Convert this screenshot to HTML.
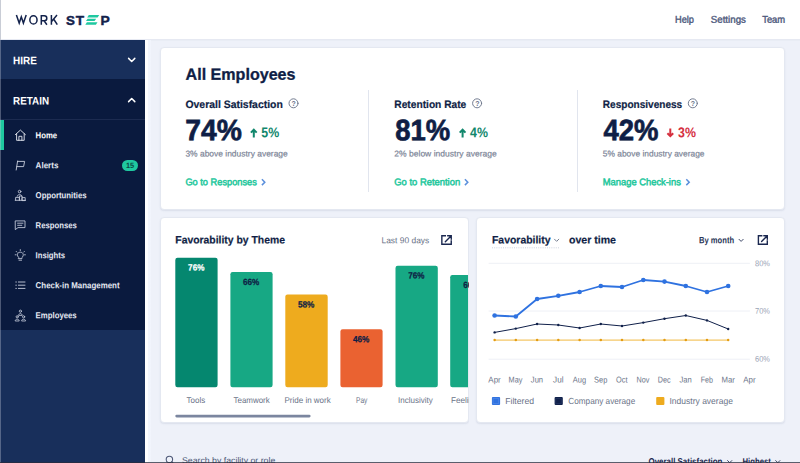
<!DOCTYPE html>
<html>
<head>
<meta charset="utf-8">
<style>
html,body{margin:0;padding:0;}
body{width:800px;height:463px;overflow:hidden;position:relative;background:#eef1f9;font-family:"Liberation Sans",sans-serif;}
.abs{position:absolute;}
.t{position:absolute;left:0;top:0;white-space:nowrap;transform-origin:0 0;display:block;}
.card{position:absolute;background:#fff;border-radius:4px;border:1px solid #e4e8f1;box-sizing:border-box;box-shadow:0 1px 1.5px rgba(120,135,170,0.16);}
.bar{position:absolute;border-radius:2.2px;}
svg{position:absolute;overflow:visible;}
</style>
</head>
<body>
<!-- header -->
<div class="abs" style="left:0;top:0;width:800px;height:38.6px;background:#fff;box-shadow:0 1.6px 0 #e6e9f2;"></div>
<!-- logo -->
<svg style="left:0;top:0" width="130" height="39" viewBox="0 0 130 39">
 <g fill="none" stroke="#13224b" stroke-width="1.5" stroke-linejoin="miter" stroke-linecap="butt">
  <polyline points="16.4,15.1 19.2,23.1 21.3,16.8 23.4,23.1 26.2,15.1"/>
  <ellipse cx="33.45" cy="19.9" rx="3.6" ry="4.1"/>
  <path d="M41.3,24.7 V15.8 H44.3 A2.5,2.5 0 0 1 44.3,20.8 H41.3 M44.1,20.8 L46.9,24.7"/>
  <path d="M51.4,15.1 V24.7 M57.0,15.1 L51.6,21.4 M53.6,19.0 L57.3,24.7"/>
 </g>
 <g font-family="Liberation Sans, sans-serif" fill="#13224b" stroke="#13224b" stroke-width="0.45" font-size="13.6" font-weight="700">
  <text transform="translate(66.0,24.75) scale(0.98,1)">S</text>
  <text transform="translate(75.7,24.75) scale(1.0,1)">T</text>
  <text transform="translate(100.5,24.75) scale(1.02,1)">P</text>
 </g>
 <g fill="#1fc8a0">
  <polygon points="88.8,15.1 99.2,15.1 97.6,17.5 87.2,17.5"/>
  <polygon points="87.6,18.7 96.2,18.7 94.6,21.1 86,21.1"/>
  <polygon points="86.9,22.3 97.5,22.3 95.9,24.7 85.3,24.7"/>
 </g>
</svg>
<!-- sidebar -->
<div class="abs" style="left:0;top:40px;width:145px;height:423px;background:#182f5b;"></div>
<div class="abs" style="left:0;top:79px;width:145px;height:251px;background:#0a1a3e;"></div>
<div class="abs" style="left:0;top:118.5px;width:145px;height:1px;background:#1c2b50;"></div>
<div class="abs" style="left:0;top:120px;width:4px;height:30px;background:#1fc8a0;"></div>
<div class="abs" style="left:145px;top:40px;width:5.7px;height:423px;background:linear-gradient(90deg,#ffffff 0,#ffffff 45%,#f3f6fd 55%,#f1f4fc 100%);"></div>
<div class="abs" style="left:0;top:0;width:1px;height:40px;background:#c9cdd6;"></div><div class="abs" style="left:0;top:40px;width:1px;height:423px;background:rgba(200,206,222,0.35);"></div>
<!-- sidebar chevrons -->
<svg style="left:0;top:0" width="150" height="463" viewBox="0 0 150 463" fill="none" stroke="#fff" stroke-linecap="round" stroke-linejoin="round">
 <polyline points="128.6,58.4 131.7,61.5 134.8,58.4" stroke-width="1.5"/>
 <polyline points="128.6,101.6 131.7,98.5 134.8,101.6" stroke-width="1.5"/>
 <!-- home icon -->
 <g stroke="#e8ebf3" stroke-width="0.9">
  <path d="M15.4,134.6 L20.4,130.1 L25.4,134.6"/>
  <path d="M16.6,133.8 V140.3 H24.2 V133.8"/>
  <path d="M18.9,140.3 V136.3 H21.9 V140.3"/>
 </g>
 <!-- flag -->
 <g stroke="#c9cfde" stroke-width="0.9">
  <path d="M17.6,161 L16.2,170"/>
  <path d="M17.6,161.4 H24.6 L23.6,166.6 H16.9"/>
 </g>
 <!-- opportunities -->
 <g stroke="#c9cfde" stroke-width="0.85">
  <circle cx="19.6" cy="191.6" r="1.3"/>
  <path d="M17.2,196.2 C17.2,194 22,194 22,196.2"/>
  <path d="M15.6,200.2 V197.4 H19.4 V200.2 M19.4,200.2 V196 H22 V200.2 M22,200.2 V197.6 H25.2 V200.2 Z"/>
  <path d="M15.2,200.3 H25.6"/>
 </g>
 <!-- responses -->
 <g stroke="#c9cfde" stroke-width="0.85">
  <path d="M15.6,220.9 H25.0 V227.6 H18.0 L15.6,229.4 Z"/>
  <path d="M17.6,223.2 H23 M17.6,225.3 H21.8"/>
 </g>
 <!-- insights bulb -->
 <g stroke="#c9cfde" stroke-width="0.85">
  <path d="M18.6,257.4 C16.6,256 16.8,252.2 20.3,252.2 C23.8,252.2 24,256 22,257.4 V258.6 H18.6 Z"/>
  <path d="M19,260.2 H21.6"/>
  <path d="M20.3,249.6 V250.6 M16.2,251.4 L16.9,252.1 M24.4,251.4 L23.7,252.1 M15.2,254.8 H16.1 M24.5,254.8 H25.4"/>
 </g>
 <!-- list -->
 <g stroke="#c9cfde" stroke-width="0.9">
  <path d="M18.4,282 H25 M18.4,285.2 H25 M18.4,288.4 H25"/>
  <path d="M15.8,282 H16.4 M15.8,285.2 H16.4 M15.8,288.4 H16.4"/>
 </g>
 <!-- employees -->
 <g stroke="#c9cfde" stroke-width="0.8">
  <circle cx="20.4" cy="311.2" r="1.1"/>
  <path d="M18.6,315 C18.6,313 22.2,313 22.2,315 Z"/>
  <circle cx="17.2" cy="316.8" r="1.1"/>
  <path d="M15.2,320.6 C15.2,318.6 19.2,318.6 19.2,320.6 Z"/>
  <circle cx="23.6" cy="316.8" r="1.1"/>
  <path d="M21.6,320.6 C21.6,318.6 25.6,318.6 25.6,320.6 Z"/>
 </g>
</svg>
<!-- badge -->
<div class="abs" style="left:122.2px;top:160.2px;width:15.6px;height:10.4px;border-radius:6px;background:#1fc8a0;"></div>

<!-- top card -->
<div class="card" style="left:160px;top:47px;width:625px;height:163px;"></div>
<div class="abs" style="left:368.3px;top:90px;width:1px;height:102px;background:#e1e5ee;"></div>
<div class="abs" style="left:576.8px;top:90px;width:1px;height:102px;background:#e1e5ee;"></div>
<svg style="left:0;top:0" width="800" height="463" viewBox="0 0 800 463" fill="none" stroke-linecap="round" stroke-linejoin="round">
 <!-- help circles -->
 <g stroke="#6d768b" stroke-width="0.95">
  <circle cx="293.5" cy="103.3" r="4.5"/>
  <circle cx="477.1" cy="103.3" r="4.5"/>
  <circle cx="692.8" cy="103.3" r="4.5"/>
 </g>
 <!-- arrows up -->
 <g stroke="#12876c" stroke-width="2" stroke-linecap="butt" stroke-linejoin="miter">
  <path d="M253.8,137.5 V130 M250.9,132.6 L253.8,129.7 L256.7,132.6"/>
  <path d="M462.6,137.5 V130 M459.7,132.6 L462.6,129.7 L465.5,132.6"/>
 </g>
 <g stroke="#d5303f" stroke-width="2" stroke-linecap="butt" stroke-linejoin="miter">
  <path d="M670.3,128.4 V135.9 M667.4,133.3 L670.3,136.2 L673.2,133.3"/>
 </g>
 <!-- link chevrons -->
 <g stroke="#5a8fdc" stroke-width="1.5" stroke-linecap="butt" stroke-linejoin="miter">
  <polyline points="261.9,179.3 264.8,182.2 261.9,185.1"/>
  <polyline points="464.9,179.3 467.8,182.2 464.9,185.1"/>
  <polyline points="686.3,179.3 689.2,182.2 686.3,185.1"/>
 </g>
</svg>
<div class="t" style="transform:translate(291.55px,99.1px) rotate(0.03deg);font-size:7px;line-height:9px;font-weight:700;color:#6d768b;">?</div>
<div class="t" style="transform:translate(475.15px,99.1px) rotate(0.03deg);font-size:7px;line-height:9px;font-weight:700;color:#6d768b;">?</div>
<div class="t" style="transform:translate(690.85px,99.1px) rotate(0.03deg);font-size:7px;line-height:9px;font-weight:700;color:#6d768b;">?</div>

<!-- bottom-left card -->
<div class="card" style="left:160px;top:217px;width:309px;height:206px;"></div>
<svg style="left:0;top:0" width="800" height="463" viewBox="0 0 800 463">
 <defs><clipPath id="cl"><rect x="161" y="218" width="307" height="204"/></clipPath></defs>
 <g clip-path="url(#cl)">
  <rect x="175.3" y="257.8" width="42.3" height="129.5" rx="2.2" fill="#05876f"/>
  <rect x="230.4" y="272.1" width="42.2" height="115.2" rx="2.2" fill="#17a884"/>
  <rect x="285.3" y="294.5" width="42.4" height="92.8" rx="2.2" fill="#eeab1e"/>
  <rect x="340.4" y="329.3" width="42.2" height="58.0" rx="2.2" fill="#ea6231"/>
  <rect x="395.5" y="265.7" width="42.3" height="121.6" rx="2.2" fill="#17a884"/>
  <rect x="450.2" y="275.1" width="41.8" height="112.2" rx="2.2" fill="#17a884"/>
 </g>
 <rect x="175.3" y="414.7" width="135.3" height="2.7" rx="1.35" fill="#7b869f"/>
</svg>
<span class="t" style="font-size:9px;line-height:14px;font-weight:700;color:#0f1e45;transform:translate(463.20px,278.00px) scaleX(0.9050) rotate(0.03deg);-webkit-text-stroke:0.25px #0f1e45;">66%</span>
<span class="t" style="font-size:8.4px;line-height:14px;font-weight:400;color:#6a7388;transform:translate(451.00px,392.89px) scaleX(0.9709) rotate(0.03deg);">Feeling</span>
<div class="abs" style="left:469px;top:216px;width:7px;height:208px;background:#eef1f9;"></div>
<!-- bottom-right card -->
<div class="card" style="left:476px;top:217px;width:309px;height:206px;"></div>
<!-- external link icons -->
<svg style="left:0;top:0" width="800" height="463" viewBox="0 0 800 463" fill="none" stroke="#1b2850" stroke-width="1.4" stroke-linecap="butt" stroke-linejoin="miter">
 <path d="M446,235.7 H441.85 V244.3 H451.25 V240.2"/>
 <path d="M447.6,235.7 H451.25 V239.3 M451,235.95 L445.3,241.65" stroke-linecap="round"/>
 <path d="M762.4,235.7 H758.4 V244.3 H767.3 V240.2"/>
 <path d="M763.8,235.7 H767.3 V239.2 M767.05,235.95 L761.6,241.4" stroke-linecap="round"/>
</svg>

<svg style="left:0;top:0" width="800" height="463" viewBox="0 0 800 463" fill="none" stroke-linecap="round" stroke-linejoin="round">
 <g stroke="#eef0f6" stroke-width="1">
  <path d="M489,263.3 H749.5 M489,311 H749.5 M489,359.2 H749.5"/>
 </g>
 <!-- dotted underline -->
 <path d="M492,247.8 H559.5" stroke="#c3c9d8" stroke-width="0.8" stroke-dasharray="1 1.2" stroke-linecap="butt"/>
 <!-- select chevrons -->
 <g stroke="#2a3658" stroke-width="0.9">
  <polyline points="554.5,239.2 556.65,241.35 558.8,239.2" stroke="#6a7388"/>
  <polyline points="739.0,239.3 741.1,241.4 743.2,239.3"/>
  <polyline points="727.6,460.6 729.7,462.7 731.8,460.6"/>
  <polyline points="775.7,460.6 777.8,462.7 779.9,460.6"/>
 </g>
 <polyline fill="none" stroke="#efb02a" stroke-width="0.9" points="494.6,340.1 515.8,340.1 537.1,340.1 558.3,340.1 579.6,340.1 600.8,340.1 622.0,340.1 643.3,340.1 664.5,340.1 685.8,340.1 707.0,340.1 728.2,340.1"/><circle cx="494.6" cy="340.1" r="0" fill="#efb02a"/><circle cx="515.8" cy="340.1" r="0" fill="#efb02a"/><circle cx="537.1" cy="340.1" r="0" fill="#efb02a"/><circle cx="558.3" cy="340.1" r="0" fill="#efb02a"/><circle cx="579.6" cy="340.1" r="0" fill="#efb02a"/><circle cx="600.8" cy="340.1" r="0" fill="#efb02a"/><circle cx="622.0" cy="340.1" r="0" fill="#efb02a"/><circle cx="643.3" cy="340.1" r="0" fill="#efb02a"/><circle cx="664.5" cy="340.1" r="0" fill="#efb02a"/><circle cx="685.8" cy="340.1" r="0" fill="#efb02a"/><circle cx="707.0" cy="340.1" r="0" fill="#efb02a"/><circle cx="728.2" cy="340.1" r="0" fill="#efb02a"/><circle cx="494.6" cy="340.1" r="1.25" fill="#e39c12"/><circle cx="515.8" cy="340.1" r="1.25" fill="#e39c12"/><circle cx="537.1" cy="340.1" r="1.25" fill="#e39c12"/><circle cx="558.3" cy="340.1" r="1.25" fill="#e39c12"/><circle cx="579.6" cy="340.1" r="1.25" fill="#e39c12"/><circle cx="600.8" cy="340.1" r="1.25" fill="#e39c12"/><circle cx="622.0" cy="340.1" r="1.25" fill="#e39c12"/><circle cx="643.3" cy="340.1" r="1.25" fill="#e39c12"/><circle cx="664.5" cy="340.1" r="1.25" fill="#e39c12"/><circle cx="685.8" cy="340.1" r="1.25" fill="#e39c12"/><circle cx="707.0" cy="340.1" r="1.25" fill="#e39c12"/><circle cx="728.2" cy="340.1" r="1.25" fill="#e39c12"/><polyline fill="none" stroke="#10204a" stroke-width="1.0" points="494.6,332.4 515.8,328.6 537.1,324.0 558.3,325.0 579.6,328.0 600.8,324.0 622.0,326.0 643.3,322.6 664.5,318.7 685.8,315.5 707.0,320.4 728.2,329.0"/><circle cx="494.6" cy="332.4" r="1.2" fill="#10204a"/><circle cx="515.8" cy="328.6" r="1.2" fill="#10204a"/><circle cx="537.1" cy="324.0" r="1.2" fill="#10204a"/><circle cx="558.3" cy="325.0" r="1.2" fill="#10204a"/><circle cx="579.6" cy="328.0" r="1.2" fill="#10204a"/><circle cx="600.8" cy="324.0" r="1.2" fill="#10204a"/><circle cx="622.0" cy="326.0" r="1.2" fill="#10204a"/><circle cx="643.3" cy="322.6" r="1.2" fill="#10204a"/><circle cx="664.5" cy="318.7" r="1.2" fill="#10204a"/><circle cx="685.8" cy="315.5" r="1.2" fill="#10204a"/><circle cx="707.0" cy="320.4" r="1.2" fill="#10204a"/><circle cx="728.2" cy="329.0" r="1.2" fill="#10204a"/><polyline fill="none" stroke="#2f72e0" stroke-width="1.8" points="494.6,315.5 515.8,316.5 537.1,299.0 558.3,295.8 579.6,292.0 600.8,286.0 622.0,287.0 643.3,280.0 664.5,281.6 685.8,286.0 707.0,292.0 728.2,286.0"/><circle cx="494.6" cy="315.5" r="2.3" fill="#2f72e0"/><circle cx="515.8" cy="316.5" r="2.3" fill="#2f72e0"/><circle cx="537.1" cy="299.0" r="2.3" fill="#2f72e0"/><circle cx="558.3" cy="295.8" r="2.3" fill="#2f72e0"/><circle cx="579.6" cy="292.0" r="2.3" fill="#2f72e0"/><circle cx="600.8" cy="286.0" r="2.3" fill="#2f72e0"/><circle cx="622.0" cy="287.0" r="2.3" fill="#2f72e0"/><circle cx="643.3" cy="280.0" r="2.3" fill="#2f72e0"/><circle cx="664.5" cy="281.6" r="2.3" fill="#2f72e0"/><circle cx="685.8" cy="286.0" r="2.3" fill="#2f72e0"/><circle cx="707.0" cy="292.0" r="2.3" fill="#2f72e0"/><circle cx="728.2" cy="286.0" r="2.3" fill="#2f72e0"/>
 <!-- legend -->
 <rect x="491.9" y="396.9" width="8.2" height="8.2" rx="1" fill="#2f72e0"/><rect x="493.4" y="398.4" width="5.2" height="5.2" fill="none" stroke="#5a90ea" stroke-width="0.6"/>
 <rect x="554.6" y="396.9" width="8.2" height="8.2" rx="1" fill="#10204a"/><rect x="556.1" y="398.4" width="5.2" height="5.2" fill="none" stroke="#2c3c68" stroke-width="0.6"/>
 <rect x="656.2" y="396.9" width="8.2" height="8.2" rx="1" fill="#eeab1e"/>
 <!-- search icon -->
 <g stroke="#4d5877" stroke-width="1.1">
  <circle cx="169.4" cy="459.4" r="3.2"/>
  <path d="M171.8,461.8 L174.2,464.2"/>
 </g>
</svg>

<span class="t" style="font-size:9.8px;line-height:15px;font-weight:400;color:#4f5b7e;transform:translate(675.00px,11.67px) scaleX(0.9420) rotate(0.03deg);-webkit-text-stroke:0.4px #4f5b7e;">Help</span>
<span class="t" style="font-size:9.8px;line-height:15px;font-weight:400;color:#4f5b7e;transform:translate(710.80px,11.67px) scaleX(0.9915) rotate(0.03deg);-webkit-text-stroke:0.4px #4f5b7e;">Settings</span>
<span class="t" style="font-size:9.8px;line-height:15px;font-weight:400;color:#4f5b7e;transform:translate(762.20px,11.67px) scaleX(0.9582) rotate(0.03deg);-webkit-text-stroke:0.4px #4f5b7e;">Team</span>
<span class="t" style="font-size:11px;line-height:16px;font-weight:700;color:#ffffff;transform:translate(13.10px,52.18px) scaleX(0.9058) rotate(0.03deg);">HIRE</span>
<span class="t" style="font-size:11px;line-height:16px;font-weight:700;color:#ffffff;transform:translate(13.10px,92.38px) scaleX(0.8959) rotate(0.03deg);">RETAIN</span>
<span class="t" style="font-size:8.8px;line-height:14px;font-weight:700;color:#ffffff;transform:translate(35.60px,128.28px) scaleX(0.8799) rotate(0.03deg);">Home</span>
<span class="t" style="font-size:8.8px;line-height:14px;font-weight:700;color:#e4e8f2;transform:translate(35.60px,158.28px) scaleX(0.9145) rotate(0.03deg);">Alerts</span>
<span class="t" style="font-size:8.8px;line-height:14px;font-weight:700;color:#e4e8f2;transform:translate(35.60px,188.28px) scaleX(0.8862) rotate(0.03deg);">Opportunities</span>
<span class="t" style="font-size:8.8px;line-height:14px;font-weight:700;color:#e4e8f2;transform:translate(35.60px,218.28px) scaleX(0.8779) rotate(0.03deg);">Responses</span>
<span class="t" style="font-size:8.8px;line-height:14px;font-weight:700;color:#e4e8f2;transform:translate(35.60px,248.28px) scaleX(0.8750) rotate(0.03deg);">Insights</span>
<span class="t" style="font-size:8.8px;line-height:14px;font-weight:700;color:#e4e8f2;transform:translate(35.60px,278.28px) scaleX(0.8990) rotate(0.03deg);">Check-in Management</span>
<span class="t" style="font-size:8.8px;line-height:14px;font-weight:700;color:#e4e8f2;transform:translate(35.60px,308.28px) scaleX(0.8849) rotate(0.03deg);">Employees</span>
<span class="t" style="font-size:7.5px;line-height:13px;font-weight:700;color:#0b4a44;transform:translate(126.00px,158.88px) scaleX(0.9791) rotate(0.03deg);">15</span>
<span class="t" style="font-size:16.2px;line-height:22px;font-weight:700;color:#0f1e45;transform:translate(185.60px,62.77px) scaleX(0.9932) rotate(0.03deg);-webkit-text-stroke:0.3px #0f1e45;">All Employees</span>
<span class="t" style="font-size:10.8px;line-height:16px;font-weight:700;color:#0f1e45;transform:translate(185.40px,95.92px) scaleX(0.9669) rotate(0.03deg);-webkit-text-stroke:0.2px #0f1e45;">Overall Satisfaction</span>
<span class="t" style="font-size:10.8px;line-height:16px;font-weight:700;color:#0f1e45;transform:translate(394.30px,95.92px) scaleX(0.9451) rotate(0.03deg);-webkit-text-stroke:0.2px #0f1e45;">Retention Rate</span>
<span class="t" style="font-size:10.8px;line-height:16px;font-weight:700;color:#0f1e45;transform:translate(602.80px,95.92px) scaleX(0.9318) rotate(0.03deg);-webkit-text-stroke:0.2px #0f1e45;">Responsiveness</span>
<span class="t" style="font-size:29.6px;line-height:37px;font-weight:700;color:#0f1e45;transform:translate(185.25px,111.18px) scaleX(0.9548) rotate(0.03deg);-webkit-text-stroke:0.7px #0f1e45;">74%</span>
<span class="t" style="font-size:29.6px;line-height:37px;font-weight:700;color:#0f1e45;transform:translate(395.30px,111.18px) scaleX(0.9267) rotate(0.03deg);-webkit-text-stroke:0.7px #0f1e45;">81%</span>
<span class="t" style="font-size:29.6px;line-height:37px;font-weight:700;color:#0f1e45;transform:translate(603.50px,111.18px) scaleX(0.9284) rotate(0.03deg);-webkit-text-stroke:0.7px #0f1e45;">42%</span>
<span class="t" style="font-size:14.2px;line-height:20px;font-weight:700;color:#12876c;transform:translate(261.30px,122.28px) scaleX(0.8712) rotate(0.03deg);">5%</span>
<span class="t" style="font-size:14.2px;line-height:20px;font-weight:700;color:#12876c;transform:translate(470.10px,122.28px) scaleX(0.8712) rotate(0.03deg);">4%</span>
<span class="t" style="font-size:14.2px;line-height:20px;font-weight:700;color:#d5303f;transform:translate(678.10px,122.28px) scaleX(0.8712) rotate(0.03deg);">3%</span>
<span class="t" style="font-size:8.5px;line-height:14px;font-weight:400;color:#7c8597;transform:translate(185.40px,146.52px) scaleX(0.9934) rotate(0.03deg);-webkit-text-stroke:0.2px #7c8597;">3% above industry average</span>
<span class="t" style="font-size:8.5px;line-height:14px;font-weight:400;color:#7c8597;transform:translate(394.30px,146.52px) scaleX(1.0036) rotate(0.03deg);-webkit-text-stroke:0.2px #7c8597;">2% below industry average</span>
<span class="t" style="font-size:8.5px;line-height:14px;font-weight:400;color:#7c8597;transform:translate(602.80px,146.52px) scaleX(0.9876) rotate(0.03deg);-webkit-text-stroke:0.2px #7c8597;">5% above industry average</span>
<span class="t" style="font-size:9.7px;line-height:15px;font-weight:400;color:#22c79c;transform:translate(185.40px,174.24px) scaleX(0.9546) rotate(0.03deg);-webkit-text-stroke:0.5px #22c79c;">Go to Responses</span>
<span class="t" style="font-size:9.7px;line-height:15px;font-weight:400;color:#22c79c;transform:translate(394.30px,174.24px) scaleX(0.9708) rotate(0.03deg);-webkit-text-stroke:0.5px #22c79c;">Go to Retention</span>
<span class="t" style="font-size:9.7px;line-height:15px;font-weight:400;color:#22c79c;transform:translate(602.80px,174.24px) scaleX(0.9663) rotate(0.03deg);-webkit-text-stroke:0.5px #22c79c;">Manage Check-ins</span>
<span class="t" style="font-size:10.8px;line-height:16px;font-weight:700;color:#0f1e45;transform:translate(175.30px,231.52px) scaleX(0.9623) rotate(0.03deg);-webkit-text-stroke:0.2px #0f1e45;">Favorability by Theme</span>
<span class="t" style="font-size:8.6px;line-height:14px;font-weight:400;color:#6a7388;transform:translate(381.50px,233.16px) scaleX(0.9807) rotate(0.03deg);">Last 90 days</span>
<span class="t" style="font-size:9px;line-height:14px;font-weight:700;color:#ffffff;transform:translate(188.10px,260.60px) scaleX(0.9050) rotate(0.03deg);-webkit-text-stroke:0.25px #ffffff;">76%</span>
<span class="t" style="font-size:9px;line-height:14px;font-weight:700;color:#0f1e45;transform:translate(243.00px,274.90px) scaleX(0.9106) rotate(0.03deg);-webkit-text-stroke:0.25px #0f1e45;">66%</span>
<span class="t" style="font-size:9px;line-height:14px;font-weight:700;color:#0f1e45;transform:translate(297.90px,297.40px) scaleX(0.9161) rotate(0.03deg);-webkit-text-stroke:0.25px #0f1e45;">58%</span>
<span class="t" style="font-size:9px;line-height:14px;font-weight:700;color:#0f1e45;transform:translate(353.00px,332.20px) scaleX(0.9106) rotate(0.03deg);-webkit-text-stroke:0.25px #0f1e45;">46%</span>
<span class="t" style="font-size:9px;line-height:14px;font-weight:700;color:#0f1e45;transform:translate(408.20px,268.60px) scaleX(0.9050) rotate(0.03deg);-webkit-text-stroke:0.25px #0f1e45;">76%</span>
<span class="t" style="font-size:8.4px;line-height:14px;font-weight:400;color:#6a7388;transform:translate(186.50px,392.89px) scaleX(0.9555) rotate(0.03deg);">Tools</span>
<span class="t" style="font-size:8.4px;line-height:14px;font-weight:400;color:#6a7388;transform:translate(233.50px,392.89px) scaleX(0.9494) rotate(0.03deg);">Teamwork</span>
<span class="t" style="font-size:8.4px;line-height:14px;font-weight:400;color:#6a7388;transform:translate(284.50px,392.89px) scaleX(0.9549) rotate(0.03deg);">Pride in work</span>
<span class="t" style="font-size:8.4px;line-height:14px;font-weight:400;color:#6a7388;transform:translate(356.00px,392.89px) scaleX(0.7872) rotate(0.03deg);">Pay</span>
<span class="t" style="font-size:8.4px;line-height:14px;font-weight:400;color:#6a7388;transform:translate(398.00px,392.89px) scaleX(0.9565) rotate(0.03deg);">Inclusivity</span>
<span class="t" style="font-size:10.8px;line-height:16px;font-weight:700;color:#0f1e45;transform:translate(492.00px,231.52px) scaleX(0.9654) rotate(0.03deg);-webkit-text-stroke:0.2px #0f1e45;">Favorability</span>
<span class="t" style="font-size:10.8px;line-height:16px;font-weight:700;color:#0f1e45;transform:translate(569.00px,231.52px) scaleX(0.9791) rotate(0.03deg);-webkit-text-stroke:0.2px #0f1e45;">over time</span>
<span class="t" style="font-size:9.2px;line-height:14px;font-weight:700;color:#2a3658;transform:translate(699.00px,233.16px) scaleX(0.8281) rotate(0.03deg);">By month</span>
<span class="t" style="font-size:8.3px;line-height:14px;font-weight:400;color:#9aa3b5;transform:translate(755.00px,256.16px) scaleX(0.8997) rotate(0.03deg);">80%</span>
<span class="t" style="font-size:8.3px;line-height:14px;font-weight:400;color:#9aa3b5;transform:translate(755.00px,303.66px) scaleX(0.8997) rotate(0.03deg);">70%</span>
<span class="t" style="font-size:8.3px;line-height:14px;font-weight:400;color:#9aa3b5;transform:translate(755.00px,351.66px) scaleX(0.8997) rotate(0.03deg);">60%</span>
<span class="t" style="font-size:8.5px;line-height:14px;font-weight:400;color:#6a7388;transform:translate(488.35px,372.62px) scaleX(0.9331) rotate(0.03deg);">Apr</span>
<span class="t" style="font-size:8.5px;line-height:14px;font-weight:400;color:#6a7388;transform:translate(508.59px,372.62px) scaleX(0.8627) rotate(0.03deg);">May</span>
<span class="t" style="font-size:8.5px;line-height:14px;font-weight:400;color:#6a7388;transform:translate(530.83px,372.62px) scaleX(0.8943) rotate(0.03deg);">Jun</span>
<span class="t" style="font-size:8.5px;line-height:14px;font-weight:400;color:#6a7388;transform:translate(553.07px,372.62px) scaleX(0.9565) rotate(0.03deg);">Jul</span>
<span class="t" style="font-size:8.5px;line-height:14px;font-weight:400;color:#6a7388;transform:translate(572.81px,372.62px) scaleX(0.8768) rotate(0.03deg);">Aug</span>
<span class="t" style="font-size:8.5px;line-height:14px;font-weight:400;color:#6a7388;transform:translate(594.05px,372.62px) scaleX(0.8768) rotate(0.03deg);">Sep</span>
<span class="t" style="font-size:8.5px;line-height:14px;font-weight:400;color:#6a7388;transform:translate(616.04px,372.62px) scaleX(0.8657) rotate(0.03deg);">Oct</span>
<span class="t" style="font-size:8.5px;line-height:14px;font-weight:400;color:#6a7388;transform:translate(636.53px,372.62px) scaleX(0.8509) rotate(0.03deg);">Nov</span>
<span class="t" style="font-size:8.5px;line-height:14px;font-weight:400;color:#6a7388;transform:translate(657.77px,372.62px) scaleX(0.8509) rotate(0.03deg);">Dec</span>
<span class="t" style="font-size:8.5px;line-height:14px;font-weight:400;color:#6a7388;transform:translate(679.51px,372.62px) scaleX(0.8943) rotate(0.03deg);">Jan</span>
<span class="t" style="font-size:8.5px;line-height:14px;font-weight:400;color:#6a7388;transform:translate(700.75px,372.62px) scaleX(0.8378) rotate(0.03deg);">Feb</span>
<span class="t" style="font-size:8.5px;line-height:14px;font-weight:400;color:#6a7388;transform:translate(721.49px,372.62px) scaleX(0.9117) rotate(0.03deg);">Mar</span>
<span class="t" style="font-size:8.5px;line-height:14px;font-weight:400;color:#6a7388;transform:translate(743.23px,372.62px) scaleX(0.9331) rotate(0.03deg);">Apr</span>
<span class="t" style="font-size:8.8px;line-height:14px;font-weight:400;color:#6a7388;transform:translate(505.20px,393.93px) scaleX(0.9850) rotate(0.03deg);">Filtered</span>
<span class="t" style="font-size:8.8px;line-height:14px;font-weight:400;color:#6a7388;transform:translate(568.30px,393.93px) scaleX(0.9307) rotate(0.03deg);">Company average</span>
<span class="t" style="font-size:8.8px;line-height:14px;font-weight:400;color:#6a7388;transform:translate(669.50px,393.93px) scaleX(0.9675) rotate(0.03deg);">Industry average</span>
<span class="t" style="font-size:8.6px;line-height:14px;font-weight:400;color:#4d5877;transform:translate(182.00px,453.26px) scaleX(1.0171) rotate(0.03deg);">Search by facility or role</span>
<span class="t" style="font-size:9.2px;line-height:14px;font-weight:700;color:#1b2850;transform:translate(648.50px,454.56px) scaleX(0.8622) rotate(0.03deg);">Overall Satisfaction</span>
<span class="t" style="font-size:9.2px;line-height:14px;font-weight:700;color:#1b2850;transform:translate(742.50px,454.56px) scaleX(0.8445) rotate(0.03deg);">Highest</span>
<div class="abs" style="left:0;top:462px;width:800px;height:1px;background:rgba(40,44,60,0.75);"></div>
</body>
</html>
